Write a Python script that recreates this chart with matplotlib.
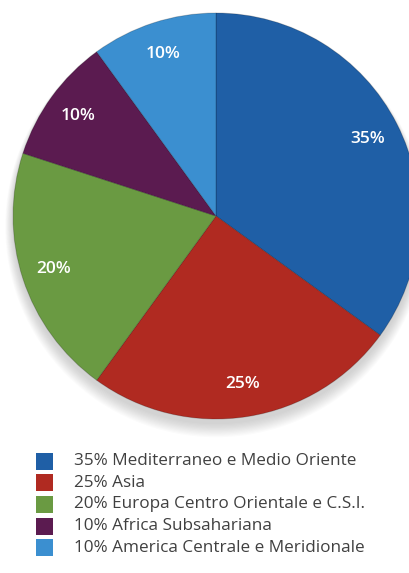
import matplotlib.pyplot as plt
from matplotlib.patches import Circle, Rectangle

# data
regions = ['Mediterraneo e Medio Oriente', 'Asia', 'Europa Centro Orientale e C.S.I.',
           'Africa Subsahariana', 'America Centrale e Meridionale']
shares = [35, 25, 20, 10, 10]
colors = ['#1f5fa6', '#b02a21', '#6a9a42', '#5b1b50', '#3b8fd0']

W, H = 409, 573
fig = plt.figure(figsize=(W / 100, H / 100), dpi=100)
ax = fig.add_axes([0, 0, 1, 1])

cx, cy, r = 216, H - 216, 203

# soft shadow under the pie
for k in range(12):
    ax.add_patch(Circle((cx, cy - 5 - k * 0.5), r + k * 0.7, color='#808080',
                        alpha=0.03, lw=0, zorder=0))

wedges, texts = ax.pie(shares, colors=colors, startangle=90, counterclock=False,
                       center=(cx, cy), radius=r,
                       labels=[f'{s}%' for s in shares], labeldistance=0.84,
                       wedgeprops=dict(edgecolor='#00000033', linewidth=0.7),
                       textprops=dict(color='white', fontsize=12.5, fontweight='semibold',
                                      family='Open Sans', ha='center', va='center'))
for w in wedges:
    w.set_zorder(2)
for t in texts:
    t.set_zorder(3)
    t.set_horizontalalignment('center')

# legend
y0, dy = H - 461, 21.7
for i, (name, s, c) in enumerate(zip(regions, shares, colors)):
    y = y0 - i * dy
    ax.add_patch(Rectangle((36, y - 8.5), 17, 17, color=c, lw=0, zorder=2))
    ax.text(74, y, f'{s}% {name}', fontsize=12.3, family='Open Sans', color='#404040',
            va='center', ha='left')

ax.set_xlim(0, W)
ax.set_ylim(0, H)
ax.set_aspect('auto')
ax.axis('off')

fig.savefig('out.png', dpi=100, facecolor='white')
